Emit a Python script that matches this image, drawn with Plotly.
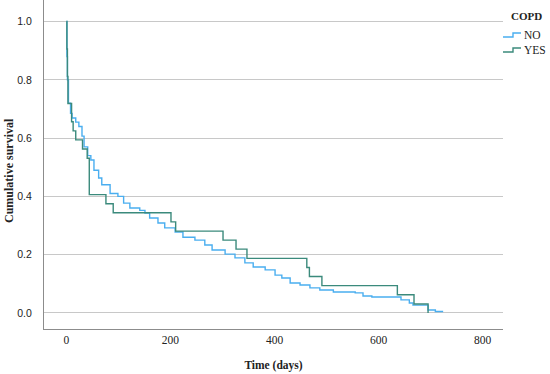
import plotly.graph_objects as go

# ---- data ----
no_time = [0, 1, 2, 4, 8, 11, 18, 24, 30, 34, 41, 47, 53, 62, 68, 84, 99, 110, 122,
           141, 151, 160, 176, 189, 209, 224, 247, 266, 280, 305, 324, 343, 359, 382,
           401, 414, 430, 449, 468, 487, 513, 555, 570, 587, 643, 659, 666, 695, 709, 724]
no_surv = [1.0, 0.88, 0.80, 0.72, 0.685, 0.669, 0.655, 0.64, 0.607, 0.57, 0.54, 0.525,
           0.49, 0.463, 0.44, 0.41, 0.40, 0.377, 0.36, 0.352, 0.343, 0.326, 0.309, 0.292,
           0.278, 0.26, 0.25, 0.233, 0.216, 0.202, 0.189, 0.172, 0.158, 0.148, 0.13, 0.12,
           0.103, 0.096, 0.086, 0.079, 0.072, 0.069, 0.058, 0.055, 0.045, 0.034, 0.027,
           0.01, 0.005, 0.005]

yes_time = [0, 1, 2, 3, 10, 13, 18, 31, 40, 44, 76, 90, 201, 210, 301, 326, 347, 462,
            467, 491, 636, 668, 695]
yes_surv = [1.0, 0.906, 0.812, 0.719, 0.656, 0.625, 0.594, 0.5625, 0.531, 0.406, 0.375,
            0.344, 0.3125, 0.281, 0.25, 0.219, 0.1875, 0.156, 0.125, 0.094, 0.0625, 0.031, 0.0]

x_ticks = [0, 200, 400, 600, 800]
y_ticks = [0.0, 0.2, 0.4, 0.6, 0.8, 1.0]
y_tick_labels = ["0.0", "0.2", "0.4", "0.6", "0.8", "1.0"]
legend_title = "COPD"
group_names = ["NO", "YES"]
x_title = "Time (days)"
y_title = "Cumulative survival"

C_NO = "#4aaef0"
C_YES = "#3b8a7c"
SERIF = "Liberation Serif, DejaVu Serif, serif"
SANS = "Liberation Sans, Arial, sans-serif"

fig = go.Figure()
fig.add_trace(go.Scatter(x=no_time, y=no_surv, mode="lines", line_shape="hv",
                         line=dict(color=C_NO, width=1.4), name=group_names[0],
                         showlegend=False))
fig.add_trace(go.Scatter(x=yes_time, y=yes_surv, mode="lines", line_shape="hv",
                         line=dict(color=C_YES, width=1.4), name=group_names[1],
                         showlegend=False))

W, H = 550, 374
L, R, T, B = 44, 47, 0, 45
PW, PH = W - L - R, H - T - B


def px(x):
    return (x - L) / PW


def py(y):
    return (H - B - y) / PH


# custom legend
fig.add_annotation(x=px(509), y=py(16), xref="paper", yref="paper", text="<b>" + legend_title + "</b>",
                   showarrow=False, xanchor="left", yanchor="middle",
                   font=dict(family=SERIF, size=11, color="#222"))
for i, (name, col) in enumerate(zip(group_names, [C_NO, C_YES])):
    yc = 35 + i * 15
    fig.add_shape(type="path", xref="paper", yref="paper",
                  path=f"M {px(503)},{py(yc+2)} L {px(513)},{py(yc+2)} L {px(513)},{py(yc-2)} L {px(521)},{py(yc-2)}",
                  line=dict(color=col, width=1.4))
    fig.add_annotation(x=px(522), y=py(yc), xref="paper", yref="paper", text=name,
                       showarrow=False, xanchor="left", yanchor="middle",
                       font=dict(family=SERIF, size=11.5, color="#222"))

# y-axis title as rotated annotation
fig.add_annotation(x=px(9), y=py(171), xref="paper", yref="paper", text="<b>" + y_title + "</b>",
                   showarrow=False, textangle=-90, xanchor="center", yanchor="middle",
                   font=dict(family=SERIF, size=12, color="#222"))

fig.update_layout(
    width=W, height=H,
    margin=dict(l=L, r=R, t=T, b=B),
    paper_bgcolor="white", plot_bgcolor="white",
    showlegend=False,
)
fig.update_xaxes(range=[-43, 839], tickvals=x_ticks, showgrid=False, zeroline=False,
                 showline=True, linecolor="#8c8c8c", linewidth=1.2, ticks="",
                 ticklabelstandoff=0,
                 tickfont=dict(family=SERIF, size=11.5, color="#222"),
                 title=dict(text="<b>" + x_title + "</b>", font=dict(family=SERIF, size=11.5, color="#222"),
                            standoff=16))
fig.update_yaxes(range=[-0.055, 1.074], tickvals=y_ticks, ticktext=y_tick_labels,
                 showgrid=True, gridcolor="#c8c8c8", gridwidth=1, zeroline=False,
                 showline=True, linecolor="#8c8c8c", linewidth=1.2, ticks="",
                 ticklabelstandoff=9,
                 tickfont=dict(family=SANS, size=10.5, color="#222"))

fig.write_html("out.html", config={"displayModeBar": False},
               post_script="document.body.style.margin='0';document.body.style.overflow='hidden';")
